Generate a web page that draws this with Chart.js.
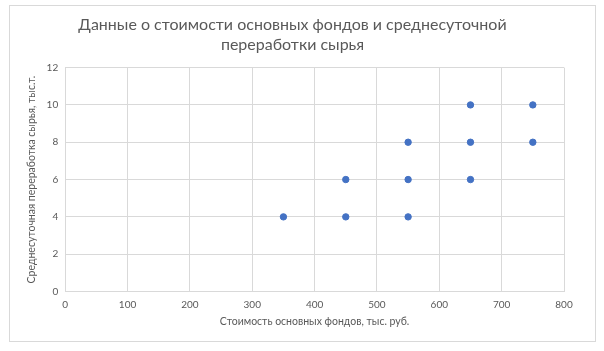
<!DOCTYPE html>
<html>
<head>
<meta charset="utf-8">
<script src="https://cdn.jsdelivr.net/npm/chart.js@4"></script>
<style>
  html, body { margin: 0; padding: 0; background: #fff; }
  #wrap { position: relative; width: 604px; height: 351px; }
</style>
</head>
<body>
<div id="wrap"><canvas id="scatterChart" width="604" height="351"></canvas></div>
<script>
const costX = [350, 450, 450, 550, 550, 550, 650, 650, 650, 750, 750];
const outputY = [4, 4, 6, 4, 6, 8, 6, 8, 10, 8, 10];
const titleLines = ['Данные о стоимости основных фондов и среднесуточной', 'переработки сырья'];
const xTitle = 'Стоимость основных фондов, тыс. руб.';
const yTitle = 'Среднесуточная переработка сырья, тыс.т.';

const points = costX.map((x, i) => ({ x: x, y: outputY[i] }));

const frame = {
    id: 'frame',
    beforeDraw(chart) {
        const c = chart.ctx;
        c.save();
        c.fillStyle = '#fff';
        c.fillRect(0, 0, chart.width, chart.height);
        c.strokeStyle = '#d9d9d9';
        c.lineWidth = 1;
        c.strokeRect(9.5, 5.5, 586, 336);
        c.restore();
    }
};

const ctxScatter = document.getElementById('scatterChart').getContext('2d');
const scatterChart = new Chart(ctxScatter, {
    type: 'scatter',
    data: {
        datasets: [{
            data: points,
            backgroundColor: '#4472C4',
            borderColor: '#4472C4',
            pointRadius: 3.2,
            pointHoverRadius: 3.2
        }]
    },
    options: {
        responsive: false,
        animation: false,
        layout: { padding: { left: 21, right: 40, top: 11, bottom: 24 } },
        plugins: {
            legend: { display: false },
            tooltip: { enabled: false },
            title: {
                display: true,
                text: titleLines,
                color: '#595959',
                font: { family: 'Lato', size: 16, weight: 'normal', lineHeight: 1.3 },
                padding: { top: 3, bottom: 12 }
            }
        },
        scales: {
            x: {
                type: 'linear',
                min: 0, max: 800,
                ticks: { stepSize: 100, color: '#595959', font: { family: 'Lato', size: 10 }, padding: 7 },
                grid: { color: '#d9d9d9', drawTicks: false },
                border: { color: '#d9d9d9' },
                title: { display: true, text: xTitle, color: '#595959', font: { family: 'Lato', size: 10.5, lineHeight: 1 }, padding: { top: -1, bottom: 0 } }
            },
            y: {
                min: 0, max: 12,
                ticks: { stepSize: 2, color: '#595959', font: { family: 'Lato', size: 10 }, padding: 7 },
                grid: { color: '#d9d9d9', drawTicks: false },
                border: { color: '#d9d9d9' },
                title: { display: true, text: yTitle, color: '#595959', font: { family: 'Lato', size: 10.5 }, padding: { bottom: 2 } }
            }
        }
    },
    plugins: [frame]
});
</script>
</body>
</html>
